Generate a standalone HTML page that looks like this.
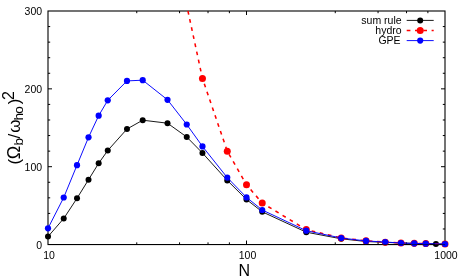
<!DOCTYPE html>
<html><head><meta charset="utf-8"><title>plot</title>
<style>
html,body{margin:0;padding:0;background:#fff;}
body{width:463px;height:278px;overflow:hidden;font-family:"Liberation Sans",sans-serif;}
.t{font-family:"Liberation Sans",sans-serif;font-size:10.5px;fill:#000;}
.b{font-family:"Liberation Sans",sans-serif;font-size:16px;fill:#000;}
.c{font-family:"Liberation Sans",sans-serif;font-size:17px;fill:#000;}
.s{font-size:13.6px;}
</style></head><body>
<svg width="463" height="278" viewBox="0 0 463 278" style="display:block;will-change:transform">
<rect width="463" height="278" fill="#fff"/>
<path d="M48.0 228.98h2.2M445.0 228.98h-2.2M48.0 213.41h2.2M445.0 213.41h-2.2M48.0 197.84h2.2M445.0 197.84h-2.2M48.0 182.27h2.2M445.0 182.27h-2.2M48.0 166.70h4.0M445.0 166.70h-4.0M48.0 151.13h2.2M445.0 151.13h-2.2M48.0 135.56h2.2M445.0 135.56h-2.2M48.0 119.99h2.2M445.0 119.99h-2.2M48.0 104.42h2.2M445.0 104.42h-2.2M48.0 88.85h4.0M445.0 88.85h-4.0M48.0 73.28h2.2M445.0 73.28h-2.2M48.0 57.71h2.2M445.0 57.71h-2.2M48.0 42.14h2.2M445.0 42.14h-2.2M48.0 26.57h2.2M445.0 26.57h-2.2M136.76 244.55v-2.2M136.76 11.0v2.2M179.56 244.55v-2.2M179.56 11.0v2.2M208.03 244.55v-2.2M208.03 11.0v2.2M229.39 244.55v-2.2M229.39 11.0v2.2M246.50 244.55v-4.0M246.50 11.0v4.0M335.26 244.55v-2.2M335.26 11.0v2.2M378.06 244.55v-2.2M378.06 11.0v2.2M406.53 244.55v-2.2M406.53 11.0v2.2M427.89 244.55v-2.2M427.89 11.0v2.2" stroke="#000" stroke-width="1" fill="none"/>
<rect x="48.0" y="11.0" width="397.0" height="233.55" fill="none" stroke="#000" stroke-width="1.1"/>
<path d="M48.00 236.60L63.72 218.50L77.01 198.30L88.52 179.70L98.67 163.30L107.75 150.50L126.99 129.00L142.71 120.20L167.51 123.20L186.75 137.00L202.46 153.00L227.26 180.40L246.50 199.50L262.22 211.80L306.25 232.20L341.21 238.80L366.01 241.50L385.25 242.40L400.96 243.00L414.25 243.40L425.76 243.70L435.92 244.00L445.00 244.10" stroke="#000" stroke-width="0.9" fill="none"/>
<circle cx="48.00" cy="236.60" r="3.0" fill="#000"/><circle cx="63.72" cy="218.50" r="3.0" fill="#000"/><circle cx="77.01" cy="198.30" r="3.0" fill="#000"/><circle cx="88.52" cy="179.70" r="3.0" fill="#000"/><circle cx="98.67" cy="163.30" r="3.0" fill="#000"/><circle cx="107.75" cy="150.50" r="3.0" fill="#000"/><circle cx="126.99" cy="129.00" r="3.0" fill="#000"/><circle cx="142.71" cy="120.20" r="3.0" fill="#000"/><circle cx="167.51" cy="123.20" r="3.0" fill="#000"/><circle cx="186.75" cy="137.00" r="3.0" fill="#000"/><circle cx="202.46" cy="153.00" r="3.0" fill="#000"/><circle cx="227.26" cy="180.40" r="3.0" fill="#000"/><circle cx="246.50" cy="199.50" r="3.0" fill="#000"/><circle cx="262.22" cy="211.80" r="3.0" fill="#000"/><circle cx="306.25" cy="232.20" r="3.0" fill="#000"/><circle cx="341.21" cy="238.80" r="3.0" fill="#000"/><circle cx="366.01" cy="241.50" r="3.0" fill="#000"/><circle cx="385.25" cy="242.40" r="3.0" fill="#000"/><circle cx="400.96" cy="243.00" r="3.0" fill="#000"/><circle cx="414.25" cy="243.40" r="3.0" fill="#000"/><circle cx="425.76" cy="243.70" r="3.0" fill="#000"/><circle cx="435.92" cy="244.00" r="3.0" fill="#000"/><circle cx="445.00" cy="244.10" r="3.0" fill="#000"/>
<path d="M187.95 11.00L202.46 78.47L227.26 151.13L246.50 184.76L262.22 203.03L306.25 229.60L341.21 237.91L366.01 240.81L385.25 242.16L400.96 242.89L414.25 243.33L425.76 243.62L445.00 243.95" stroke="#f00" stroke-width="1.55" fill="none" stroke-dasharray="3.7 4.6"/>
<circle cx="202.46" cy="78.47" r="3.5" fill="#f00"/><circle cx="227.26" cy="151.13" r="3.5" fill="#f00"/><circle cx="246.50" cy="184.76" r="3.5" fill="#f00"/><circle cx="262.22" cy="203.03" r="3.5" fill="#f00"/><circle cx="306.25" cy="229.60" r="3.5" fill="#f00"/><circle cx="341.21" cy="237.91" r="3.5" fill="#f00"/><circle cx="366.01" cy="240.81" r="3.5" fill="#f00"/><circle cx="385.25" cy="242.16" r="3.5" fill="#f00"/><circle cx="400.96" cy="242.89" r="3.5" fill="#f00"/><circle cx="414.25" cy="243.33" r="3.5" fill="#f00"/><circle cx="425.76" cy="243.62" r="3.5" fill="#f00"/><circle cx="445.00" cy="243.95" r="3.5" fill="#f00"/>
<path d="M48.00 228.30L63.72 197.50L77.01 165.20L88.52 137.30L98.67 115.70L107.75 100.30L126.99 80.90L142.71 80.20L167.51 99.80L186.75 124.50L202.46 146.40L227.26 177.60L246.50 197.40L262.22 210.00L306.25 230.70L341.21 238.00L366.01 240.95L385.25 242.00L400.96 243.00L414.25 243.40L425.76 243.65L445.00 244.00" stroke="#00f" stroke-width="0.95" fill="none"/>
<circle cx="48.00" cy="228.30" r="3.1" fill="#00f"/><circle cx="63.72" cy="197.50" r="3.1" fill="#00f"/><circle cx="77.01" cy="165.20" r="3.1" fill="#00f"/><circle cx="88.52" cy="137.30" r="3.1" fill="#00f"/><circle cx="98.67" cy="115.70" r="3.1" fill="#00f"/><circle cx="107.75" cy="100.30" r="3.1" fill="#00f"/><circle cx="126.99" cy="80.90" r="3.1" fill="#00f"/><circle cx="142.71" cy="80.20" r="3.1" fill="#00f"/><circle cx="167.51" cy="99.80" r="3.1" fill="#00f"/><circle cx="186.75" cy="124.50" r="3.1" fill="#00f"/><circle cx="202.46" cy="146.40" r="3.1" fill="#00f"/><circle cx="227.26" cy="177.60" r="3.1" fill="#00f"/><circle cx="246.50" cy="197.40" r="3.1" fill="#00f"/><circle cx="262.22" cy="210.00" r="3.1" fill="#00f"/><circle cx="306.25" cy="230.70" r="3.1" fill="#00f"/><circle cx="341.21" cy="238.00" r="3.1" fill="#00f"/><circle cx="366.01" cy="240.95" r="3.1" fill="#00f"/><circle cx="385.25" cy="242.00" r="3.1" fill="#00f"/><circle cx="400.96" cy="243.00" r="3.1" fill="#00f"/><circle cx="414.25" cy="243.40" r="3.1" fill="#00f"/><circle cx="425.76" cy="243.65" r="3.1" fill="#00f"/><circle cx="445.00" cy="244.00" r="3.1" fill="#00f"/>
<path d="M360 244.55H445.0" stroke="#000" stroke-width="1" opacity="0.55"/>
<path d="M406.7 20.40H433.7" stroke="#000" stroke-width="0.9"/>
<circle cx="420.2" cy="20.40" r="3.0" fill="#000"/>
<text x="401.6" y="24.00" text-anchor="end" class="t">sum rule</text>
<path d="M406.7 30.50H433.7" stroke="#f00" stroke-width="1.55" stroke-dasharray="3.7 4.6"/>
<circle cx="420.2" cy="30.50" r="3.5" fill="#f00"/>
<text x="401.6" y="34.10" text-anchor="end" class="t">hydro</text>
<path d="M406.7 40.60H433.7" stroke="#00f" stroke-width="0.95"/>
<circle cx="420.2" cy="40.60" r="3.1" fill="#00f"/>
<text x="400.6" y="44.20" text-anchor="end" class="t">GPE</text>
<text x="42.1" y="249.25" text-anchor="end" class="t">0</text>
<text x="42.1" y="170.60" text-anchor="end" class="t">100</text>
<text x="42.1" y="92.75" text-anchor="end" class="t">200</text>
<text x="42.1" y="14.90" text-anchor="end" class="t">300</text>
<text x="49.00" y="258.8" text-anchor="middle" class="t">10</text>
<text x="247.50" y="258.8" text-anchor="middle" class="t">100</text>
<text x="446.00" y="258.8" text-anchor="middle" class="t">1000</text>
<text x="244.3" y="276.1" text-anchor="middle" class="b">N</text>
<text transform="translate(19.80 161.75) rotate(-90)" text-anchor="middle" class="t" style="font-size:17px">(</text>
<text transform="translate(19.80 152.45) rotate(-90)" text-anchor="middle" class="t" style="font-size:18.2px">Ω</text>
<text transform="translate(23.00 141.75) rotate(-90)" text-anchor="middle" class="t" style="font-size:13.6px">b</text>
<text transform="translate(19.80 136.20) rotate(-90)" text-anchor="middle" class="t" style="font-size:17px">/</text>
<text transform="translate(19.80 126.20) rotate(-90)" text-anchor="middle" class="t" style="font-size:17px">ω</text>
<text transform="translate(23.00 116.75) rotate(-90)" text-anchor="middle" class="t" style="font-size:13.6px">h</text>
<text transform="translate(23.00 110.00) rotate(-90)" text-anchor="middle" class="t" style="font-size:13.6px">o</text>
<text transform="translate(19.80 101.50) rotate(-90)" text-anchor="middle" class="t" style="font-size:17px">)</text>
<text transform="translate(13.50 95.45) rotate(-90)" text-anchor="middle" class="t" style="font-size:16px">2</text>
</svg>
</body></html>
